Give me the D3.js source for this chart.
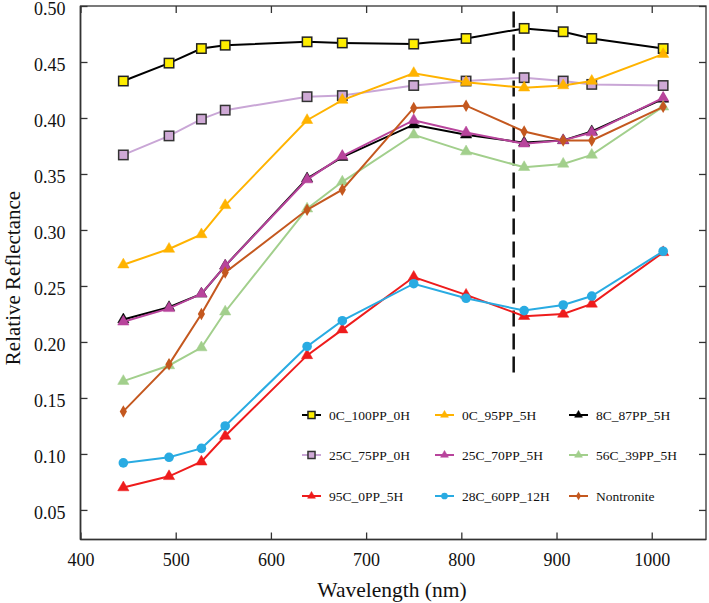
<!DOCTYPE html>
<html><head><meta charset="utf-8">
<script src="https://cdn.jsdelivr.net/npm/d3@7"></script>
<style>body{margin:0;background:#fff}svg{display:block}
svg text{font-family:"Liberation Serif","DejaVu Serif","Times New Roman",serif !important;}
</style>
</head><body>
<svg id="c" width="709" height="603"></svg>
<script>
const wavelengths = [445, 493, 527, 552, 638, 675, 750, 805, 866, 907, 937, 1012];
const s0C_100PP_0H = [0.433, 0.449, 0.462, 0.465, 0.468, 0.467, 0.466, 0.471, 0.480, 0.477, 0.471, 0.462];
const s25C_75PP_0H = [0.367, 0.384, 0.399, 0.407, 0.419, 0.420, 0.429, 0.433, 0.436, 0.433, 0.430, 0.429];
const s0C_95PP_5H = [0.269, 0.283, 0.296, 0.322, 0.398, 0.416, 0.440, 0.432, 0.427, 0.429, 0.433, 0.457];
const s8C_87PP_5H = [0.220, 0.231, 0.243, 0.268, 0.346, 0.365, 0.394, 0.385, 0.378, 0.380, 0.388, 0.417];
const s25C_70PP_5H = [0.218, 0.230, 0.243, 0.268, 0.345, 0.366, 0.398, 0.387, 0.377, 0.380, 0.387, 0.418];
const s56C_39PP_5H = [0.165, 0.179, 0.195, 0.227, 0.319, 0.343, 0.385, 0.370, 0.356, 0.359, 0.367, 0.410];
const s95C_0PP_5H = [0.070, 0.080, 0.093, 0.116, 0.188, 0.211, 0.258, 0.242, 0.223, 0.225, 0.234, 0.280];
const s28C_60PP_12H = [0.092, 0.097, 0.105, 0.125, 0.196, 0.219, 0.252, 0.239, 0.228, 0.233, 0.241, 0.281];
const sNontronite = [0.138, 0.180, 0.225, 0.262, 0.318, 0.336, 0.409, 0.411, 0.388, 0.380, 0.380, 0.410];
const xTicks = [400, 500, 600, 700, 800, 900, 1000];
const yTicks = [0.05, 0.10, 0.15, 0.20, 0.25, 0.30, 0.35, 0.40, 0.45, 0.50];
const dashedWavelength = 855;
const dashedRange = [0.172, 0.495];

const series = [
  {name:"0C_100PP_0H", v:s0C_100PP_0H, line:"#000000", fill:"#FFEE00", stroke:"#222", shape:"square"},
  {name:"25C_75PP_0H", v:s25C_75PP_0H, line:"#C9A6D6", fill:"#CFA9D6", stroke:"#333", shape:"square"},
  {name:"0C_95PP_5H", v:s0C_95PP_5H, line:"#FFB300", fill:"#FFB300", stroke:"#FFB300", shape:"triangle"},
  {name:"8C_87PP_5H", v:s8C_87PP_5H, line:"#000000", fill:"#000000", stroke:"#000", shape:"triangle"},
  {name:"25C_70PP_5H", v:s25C_70PP_5H, line:"#B8449C", fill:"#B8449C", stroke:"#B8449C", shape:"triangle"},
  {name:"56C_39PP_5H", v:s56C_39PP_5H, line:"#A2CF8C", fill:"#A2CF8C", stroke:"#A2CF8C", shape:"triangle"},
  {name:"95C_0PP_5H", v:s95C_0PP_5H, line:"#EE1C1C", fill:"#EE1C1C", stroke:"#EE1C1C", shape:"triangle"},
  {name:"28C_60PP_12H", v:s28C_60PP_12H, line:"#29ABE2", fill:"#29ABE2", stroke:"#29ABE2", shape:"circle"},
  {name:"Nontronite", v:sNontronite, line:"#C4581F", fill:"#C4581F", stroke:"#C4581F", shape:"diamond"}
];
const legendOrder = [
  ["0C_100PP_0H","0C_95PP_5H","8C_87PP_5H"],
  ["25C_75PP_0H","25C_70PP_5H","56C_39PP_5H"],
  ["95C_0PP_5H","28C_60PP_12H","Nontronite"]
];

const svg = d3.select("#c");
const L=80.5, R=706, T=6, B=539.5;
const x = d3.scaleLinear().domain([400,1057]).range([L,R]);
const y = d3.scaleLinear().domain([0.0236,0.50]).range([B,T]);
const font = "Liberation Serif, DejaVu Serif, serif";

// frame
svg.append("rect").attr("x",L).attr("y",T).attr("width",R-L).attr("height",B-T)
  .attr("fill","none").attr("stroke","#333").attr("stroke-width",1.3);

// axes
const xb = svg.append("g").attr("transform",`translate(0,${B})`)
  .call(d3.axisBottom(x).tickValues(xTicks).tickSizeInner(-7).tickSizeOuter(0).tickPadding(14).tickFormat(d3.format("d")));
const xt = svg.append("g").attr("transform",`translate(0,${T})`)
  .call(d3.axisTop(x).tickValues(xTicks).tickSizeInner(-7).tickSizeOuter(0).tickFormat(""));
const yl = svg.append("g").attr("transform",`translate(${L},0)`)
  .call(d3.axisLeft(y).tickValues(yTicks).tickSizeInner(-7).tickSizeOuter(0).tickPadding(15).tickFormat(d3.format(".2f")));
const yr = svg.append("g").attr("transform",`translate(${R},0)`)
  .call(d3.axisRight(y).tickValues(yTicks).tickSizeInner(-7).tickSizeOuter(0).tickFormat(""));
[xb,xt,yl,yr].forEach(g=>{
  g.attr("font-family",font);
  g.select(".domain").remove();
  g.selectAll(".tick line").attr("stroke","#333").attr("stroke-width",1.3);
  g.selectAll(".tick text").attr("font-family",font).attr("font-size",18).attr("fill","#111");
});
yl.selectAll(".tick text").attr("dy","0.45em");
svg.append("line").attr("x1",L).attr("x2",R).attr("y1",B).attr("y2",B).attr("stroke","#333").attr("stroke-width",1.6);
svg.append("line").attr("x1",L).attr("x2",L).attr("y1",T).attr("y2",B).attr("stroke","#333").attr("stroke-width",1.6);

// titles
svg.append("text").attr("x",392).attr("y",597).attr("text-anchor","middle")
  .attr("font-family",font).attr("font-size",21.5).attr("fill","#111").text("Wavelength (nm)");
svg.append("text").attr("transform",`translate(20,278) rotate(-90)`).attr("text-anchor","middle")
  .attr("font-family",font).attr("font-size",21).attr("fill","#111").text("Relative Reflectance");

// dashed line
svg.append("line").attr("x1",x(dashedWavelength)).attr("x2",x(dashedWavelength))
  .attr("y1",y(dashedRange[1])).attr("y2",y(dashedRange[0]))
  .attr("stroke","#111").attr("stroke-width",2.5).attr("stroke-dasharray","16,7");

function drawMarker(g, shape, cx, cy, s, scale=1){
  if(shape==="square"){
    g.append("rect").attr("x",cx-4.7*scale).attr("y",cy-4.7*scale).attr("width",9.4*scale).attr("height",9.4*scale)
      .attr("fill",s.fill).attr("stroke",s.stroke).attr("stroke-width",1.5);
  } else if(shape==="triangle"){
    g.append("path").attr("d",d3.symbol().type(d3.symbolTriangle).size(55*scale*scale)())
      .attr("transform",`translate(${cx},${cy})`).attr("fill",s.fill).attr("stroke",s.stroke).attr("stroke-width",0.5);
  } else if(shape==="circle"){
    g.append("circle").attr("cx",cx).attr("cy",cy).attr("r",4.8*scale).attr("fill",s.fill);
  } else if(shape==="diamond"){
    g.append("path").attr("d",d3.symbol().type(d3.symbolDiamond).size(45*scale*scale)())
      .attr("transform",`translate(${cx},${cy})`).attr("fill",s.fill);
  }
}

const line = d3.line().x(d=>x(d[0])).y(d=>y(d[1]));
series.forEach(s=>{
  const pts = wavelengths.map((w,i)=>[w,s.v[i]]);
  const g = svg.append("g");
  g.append("path").attr("d",line(pts)).attr("fill","none").attr("stroke",s.line).attr("stroke-width",2);
  pts.forEach(p=>drawMarker(g,s.shape,x(p[0]),y(p[1]),s));
});

// legend
const colX = [302, 435, 569];
const rowY = [415, 455, 496];
legendOrder.forEach((row,ri)=>row.forEach((name,ci)=>{
  const s = series.find(d=>d.name===name);
  const g = svg.append("g");
  const x0 = colX[ci], yy = rowY[ri];
  g.append("line").attr("x1",x0).attr("x2",x0+19).attr("y1",yy).attr("y2",yy).attr("stroke",s.line).attr("stroke-width",2);
  drawMarker(g,s.shape,x0+9.5,yy,s,s.shape==="square"?0.75:0.7);
  g.append("text").attr("x",x0+27).attr("y",yy+4.5).attr("font-family",font).attr("font-size",13.5).attr("fill","#111").text(name);
}));
</script>
</body></html>
